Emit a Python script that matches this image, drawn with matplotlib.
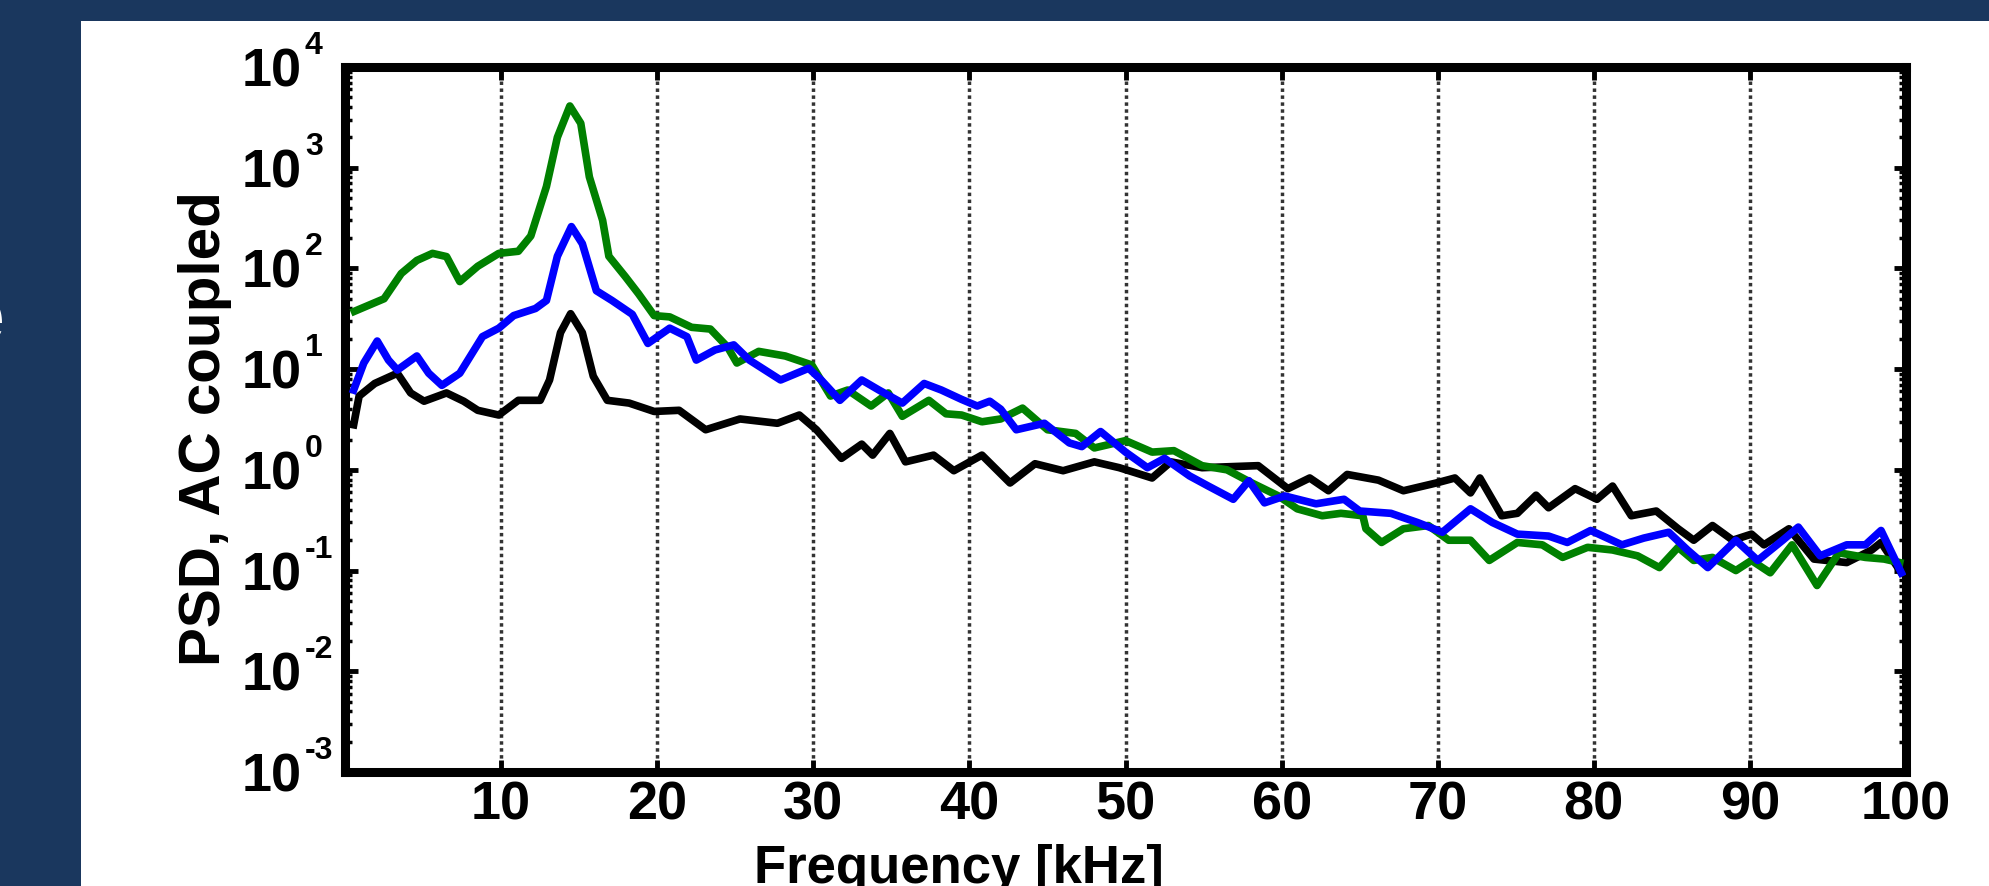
import numpy as np
import matplotlib
matplotlib.use("Agg")
import matplotlib.pyplot as plt
from matplotlib.patches import Rectangle
from matplotlib.ticker import FixedLocator, LogLocator, NullFormatter, FixedFormatter
from matplotlib.transforms import blended_transform_factory, ScaledTranslation

plt.rcParams['font.family'] = ['Liberation Sans', 'DejaVu Sans']
plt.rcParams['font.weight'] = 'bold'

# values (frequency in kHz, PSD)
green_f = [0.6, 2.5, 3.6, 4.6, 5.6, 6.5, 7.35, 8.5, 9.85, 11.1, 11.9, 12.9, 13.6, 14.4,
           15.1, 15.65, 16.5, 16.9, 17.95, 18.8, 19.8, 20.8, 22.2, 23.4, 24.5, 25.1,
           26.5, 28.2, 29.9, 31.1, 32.2, 33.7, 34.8, 35.7, 37.4, 38.5, 39.5, 40.8,
           42.0, 43.4, 45.0, 46.8, 48.0, 50.0, 51.7, 53.1, 54.9, 56.5, 58.1, 59.8,
           61.0, 62.6, 63.8, 65.2, 65.4, 66.4, 67.8, 69.4, 70.7, 72.1, 73.3, 75.1,
           76.7, 78.0, 79.6, 81.2, 82.8, 84.2, 85.4, 86.4, 87.6, 89.1, 90.1, 91.3,
           92.7, 94.3, 95.7, 97.4, 98.6, 99.6]
green_psd = [37.5, 50, 89, 120, 141, 131, 74, 105, 141, 148, 210, 650, 2000, 4100,
             2760, 810, 300, 132, 83, 56, 34, 33, 26, 25, 16.6, 11.5,
             15, 13.5, 11, 5.4, 6.2, 4.3, 5.8, 3.4, 4.9, 3.6, 3.5, 3.0,
             3.2, 4.1, 2.5, 2.3, 1.65, 1.95, 1.5, 1.55, 1.1, 1.0, 0.74, 0.55,
             0.41, 0.35, 0.37, 0.35, 0.26, 0.19, 0.26, 0.28, 0.20, 0.20, 0.126, 0.19,
             0.18, 0.135, 0.17, 0.16, 0.14, 0.107, 0.17, 0.126, 0.135, 0.10, 0.126, 0.095,
             0.18, 0.071, 0.15, 0.135, 0.13, 0.12]

blue_f = [0.55, 1.2, 2.06, 2.78, 3.35, 4.6, 5.36, 6.2, 7.35, 8.8, 9.85, 10.8, 12.2,
          12.9, 13.6, 14.5, 15.2, 16.1, 17.1, 18.4, 19.4, 20.8, 21.9, 22.5, 23.7,
          24.9, 25.9, 27.9, 29.7, 30.5, 31.7, 33.1, 34.2, 35.7, 37.1, 38.2, 39.5,
          40.5, 41.3, 42.0, 43.0, 44.8, 46.4, 47.2, 48.4, 50.0, 51.4, 52.5, 54.1,
          55.3, 56.9, 57.9, 58.9, 60.2, 62.2, 64.0, 65.0, 67.0, 68.7, 70.3, 72.1,
          73.5, 75.1, 77.1, 78.3, 79.8, 81.8, 83.2, 84.8, 86.0, 87.3, 89.1, 90.5,
          92.1, 93.1, 94.5, 96.2, 97.4, 98.4, 99.7]
blue_psd = [6.2, 11.5, 19, 12.3, 9.8, 13.5, 9.1, 6.9, 9.1, 21, 25.5, 34, 40,
            48, 132, 260, 176, 60, 48, 35, 18, 25.5, 21, 12.3, 15.5,
            17.4, 12.3, 7.8, 10.2, 7.8, 4.9, 7.8, 6.2, 4.6, 7.2, 6.2, 5.0,
            4.3, 4.8, 4.0, 2.5, 2.9, 1.85, 1.7, 2.4, 1.5, 1.05, 1.3, 0.87,
            0.69, 0.51, 0.78, 0.47, 0.55, 0.46, 0.51, 0.39, 0.37, 0.30, 0.24, 0.41,
            0.30, 0.23, 0.22, 0.19, 0.25, 0.18, 0.21, 0.24, 0.16, 0.107, 0.20, 0.126,
            0.20, 0.27, 0.14, 0.18, 0.18, 0.25, 0.095]

black_f = [0.55, 0.9, 1.9, 3.35, 4.2, 5.06, 6.5, 7.6, 8.5, 9.85, 11.1, 12.5, 13.1,
           13.8, 14.45, 15.2, 15.9, 16.8, 18.2, 19.8, 21.4, 23.1, 25.3, 27.7, 29.1,
           30.2, 31.8, 33.1, 33.8, 34.9, 35.9, 37.7, 39.0, 40.8, 42.6, 44.2, 46.0,
           48.0, 49.6, 51.7, 52.9, 54.9, 58.5, 60.4, 61.8, 63.0, 64.2, 66.2, 67.8,
           69.9, 71.1, 72.1, 72.7, 74.1, 75.1, 76.3, 77.1, 78.8, 80.2, 81.2, 82.4,
           84.0, 85.4, 86.4, 87.6, 88.9, 90.1, 90.9, 92.5, 94.1, 96.2, 97.8, 98.4, 99.6]
black_psd = [2.8, 5.4, 7.2, 9.1, 5.8, 4.8, 5.8, 4.8, 3.9, 3.5, 4.9, 4.9, 7.8,
             23, 35.5, 23, 8.5, 4.9, 4.6, 3.8, 3.9, 2.5, 3.2, 2.9, 3.5,
             2.5, 1.3, 1.8, 1.4, 2.3, 1.2, 1.4, 0.98, 1.4, 0.74, 1.15, 0.98,
             1.2, 1.05, 0.83, 1.2, 1.05, 1.1, 0.65, 0.83, 0.62, 0.90, 0.79, 0.62,
             0.74, 0.83, 0.59, 0.83, 0.35, 0.37, 0.56, 0.42, 0.65, 0.51, 0.69, 0.35,
             0.39, 0.26, 0.20, 0.28, 0.20, 0.23, 0.18, 0.26, 0.13, 0.12, 0.16, 0.19, 0.10]

x_ticks = [10, 20, 30, 40, 50, 60, 70, 80, 90, 100]
y_exps = [-3, -2, -1, 0, 1, 2, 3, 4]

navy = '#1a375e'
fig = plt.figure(figsize=(19.9, 8.86), dpi=100, facecolor=navy)
# white slide panel behind the chart
panel = Rectangle((81 / 1990, 0), 1, 1 - 21 / 886, transform=fig.transFigure,
                  facecolor='white', edgecolor='none', zorder=-10)
fig.add_artist(panel)
# clipped slide text at the left edge
fig.text(5 / 1990, 1 - 342 / 886, 'e', color='white', fontsize=58, ha='right',
         va='baseline', fontweight='bold')

ax = fig.add_axes([0.1734, 0.1287, 0.7844, 0.7957])
ax.set_zorder(1)
ax.plot(black_f, black_psd, color='black', lw=5.5, zorder=3)
ax.plot(green_f, green_psd, color='#008000', lw=5.5, zorder=4)
ax.plot(blue_f, blue_psd, color='#0000ff', lw=5.5, zorder=5)

ax.set_yscale('log')
ax.set_xlim(0, 100)
ax.set_ylim(1e-3, 1e4)
y_ticks = [10.0 ** e for e in y_exps]
ax.xaxis.set_major_locator(FixedLocator(x_ticks))
ax.yaxis.set_major_locator(FixedLocator(y_ticks))
ax.yaxis.set_major_formatter(FixedFormatter(['10'] * len(y_ticks)))
ax.yaxis.set_minor_locator(LogLocator(base=10, subs=np.arange(2, 10), numticks=20))
ax.yaxis.set_minor_formatter(NullFormatter())

ax.tick_params(axis='both', which='both', direction='in', top=True, right=True)
ax.tick_params(which='major', length=9, width=3.5, labelsize=39)
ax.tick_params(which='minor', length=5, width=2.5)
ax.tick_params(axis='x', pad=6)
ax.tick_params(axis='y', pad=31)

# small raised exponents next to each "10"
exp_tf = (blended_transform_factory(fig.transFigure, ax.transData)
          + ScaledTranslation(0, 0.13, fig.dpi_scale_trans))
for e, v in zip(y_exps, y_ticks):
    ax.text(305 / 1990, v, str(e), transform=exp_tf, fontsize=23, fontweight='bold',
            ha='left', va='baseline', clip_on=False)

for s in ax.spines.values():
    s.set_linewidth(6.5)

ax.grid(True, axis='x', which='major', linestyle=(0, (1, 1)), color='#333333', lw=2.5)

ax.set_ylabel('PSD, AC coupled', fontsize=42, fontweight='bold')
ax.yaxis.set_label_coords(-0.0724, 0.487)
ax.set_xlabel('Frequency [kHz]', fontsize=38, fontweight='bold')
ax.xaxis.set_label_coords(0.393, -0.102)

fig.savefig('out.png', dpi=100, facecolor=fig.get_facecolor())
